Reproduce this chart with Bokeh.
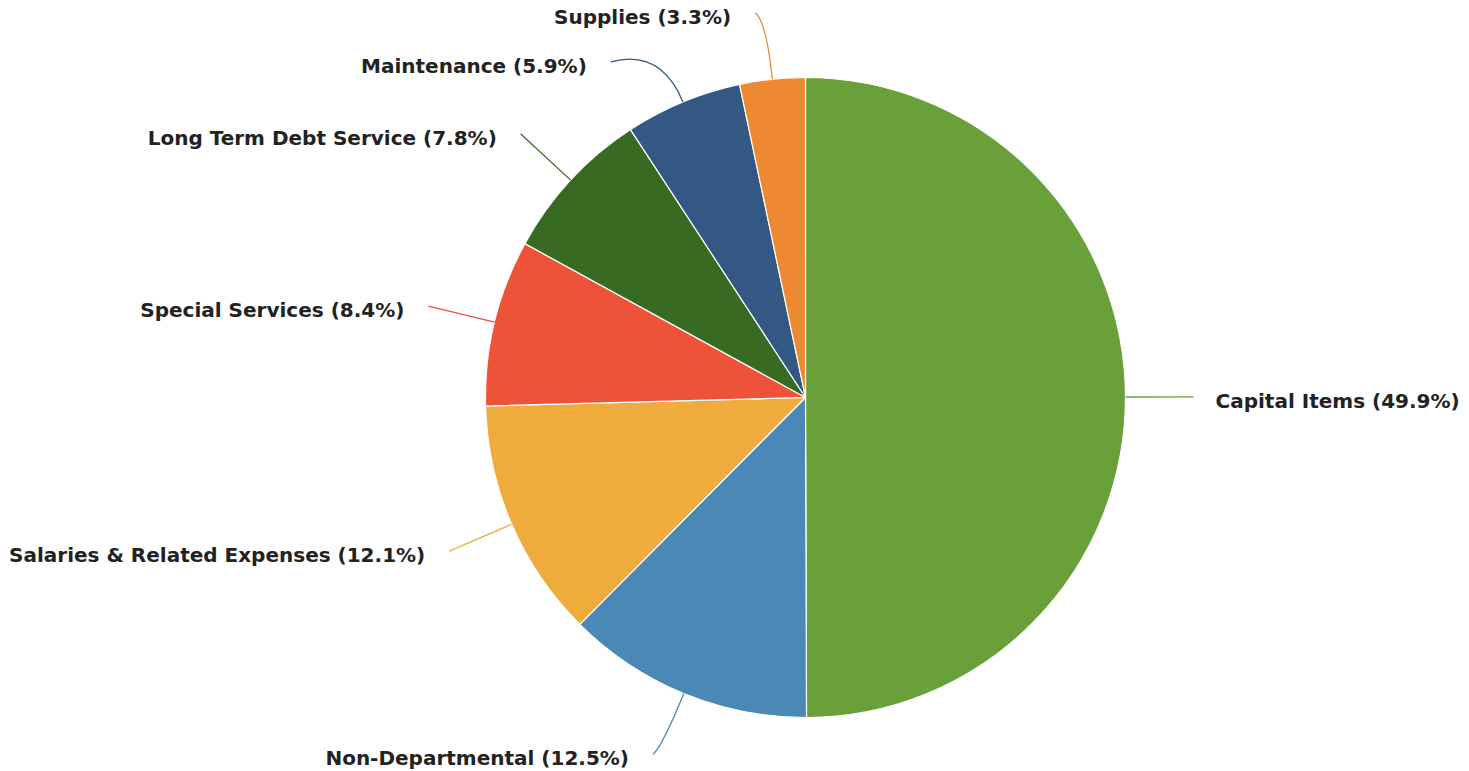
import numpy as np
from bokeh.plotting import figure
from bokeh.models import Range1d, ColumnDataSource
from bokeh.embed import file_html
from bokeh.resources import INLINE
from bokeh.core.properties import value

categories = ["Capital Items", "Non-Departmental", "Salaries & Related Expenses",
              "Special Services", "Long Term Debt Service", "Maintenance", "Supplies"]
shares = [49.9, 12.5, 12.1, 8.4, 7.8, 5.9, 3.3]
colors = ["#6aa03a", "#4a88b6", "#f0ab3d", "#ee5238", "#386a22", "#335883", "#ed8a31"]

W, H = 1469, 771
CX, CY = 805, H - 397
R = 320
R_CTRL = 378
R_END = 388
# label-placement nudges (degrees, counter-clockwise) to avoid label collisions
nudge = {"Maintenance": 7.6, "Non-Departmental": -0.8, "Supplies": 1.5}

vals = np.array(shares, dtype=float)
frac = vals / vals.sum()
cum1 = np.cumsum(frac)
cum0 = cum1 - frac
start = np.pi / 2 - 2 * np.pi * cum1
end = np.pi / 2 - 2 * np.pi * cum0
mid = (start + end) / 2
lab_ang = np.array([m + np.deg2rad(nudge.get(c, 0.0)) for m, c in zip(mid, categories)])

src = ColumnDataSource(dict(cat=categories, start=start, end=end, color=colors))

p = figure(width=W, height=H, x_range=Range1d(0, W), y_range=Range1d(0, H),
           output_backend="svg", toolbar_location=None,
           min_border=0, min_border_left=0, min_border_right=0,
           min_border_top=0, min_border_bottom=0)
p.axis.visible = False
p.grid.visible = False
p.outline_line_color = None
p.background_fill_color = "white"
p.border_fill_color = "white"

p.wedge(x=CX, y=CY, radius=R, start_angle="start", end_angle="end",
        fill_color="color", line_color="white", line_width=1.2, source=src)

x0 = CX + R * np.cos(mid)
y0 = CY + R * np.sin(mid)
cxs = CX + R_CTRL * np.cos(mid)
cys = CY + R_CTRL * np.sin(mid)
x1 = CX + R_END * np.cos(lab_ang)
y1 = CY + R_END * np.sin(lab_ang)
p.quadratic(x0=x0, y0=y0, x1=x1, y1=y1, cx=cxs, cy=cys,
            line_color=colors, line_width=1.3)

right = np.cos(lab_ang) > 0
lx = np.where(right, x1 + 22, x1 - 24)
ly = y1 - 4
labels = [f"{c} ({v:.1f}%)" for c, v in zip(categories, shares)]
lsrc = ColumnDataSource(dict(x=lx, y=ly, text=labels,
                             align=["left" if r else "right" for r in right]))
p.text(x="x", y="y", text="text", text_align="align", text_baseline="middle",
       text_font=value("DejaVu Sans"), text_font_style="bold",
       text_font_size="20px", text_color="#222222", source=lsrc)

open("out.html", "w").write(file_html(p, INLINE))
